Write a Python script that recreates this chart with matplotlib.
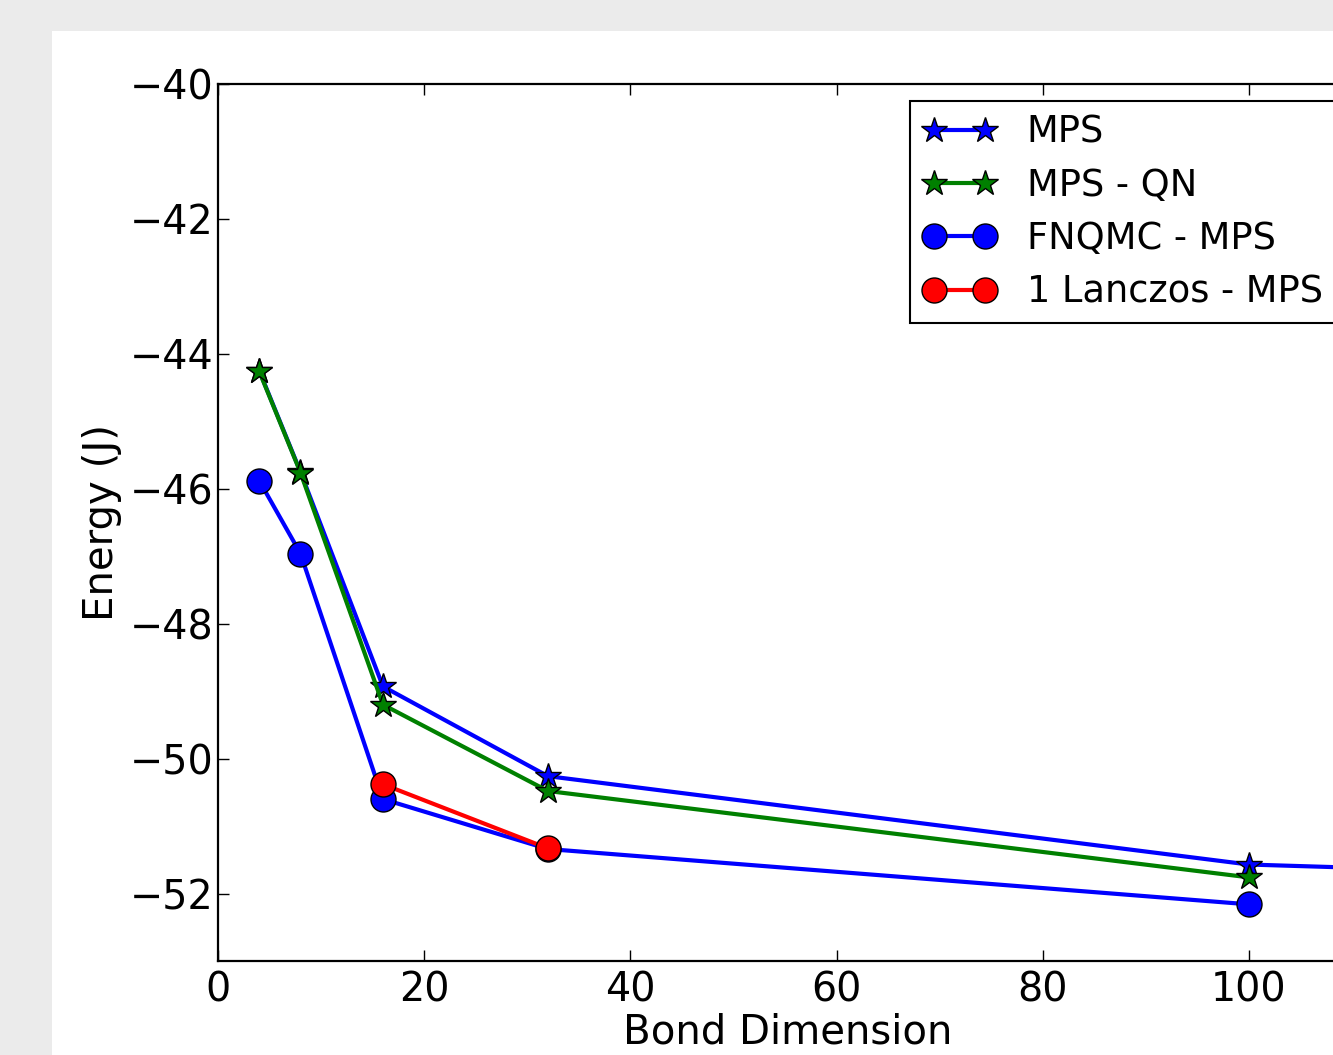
import matplotlib

matplotlib.use("Agg")
import matplotlib.pyplot as plt
from matplotlib.patches import Rectangle

# bond dimensions and energies
bond_mps = [4, 8, 16, 32, 100, 128]
energy_mps = [-44.25, -45.75, -48.93, -50.26, -51.57, -51.70]

bond_qn = [4, 8, 16, 32, 100]
energy_qn = [-44.26, -45.76, -49.20, -50.48, -51.76]

bond_fnqmc = [4, 8, 16, 32, 100]
energy_fnqmc = [-45.88, -46.96, -50.60, -51.34, -52.16]

bond_lanczos = [16, 32]
energy_lanczos = [-50.38, -51.33]

W, H = 1333, 1055
fig = plt.figure(figsize=(W / 100, H / 100), dpi=100, facecolor="#ebebeb")
fig.patches.append(
    Rectangle((52 / W, 0), 1, 1 - 31 / H, transform=fig.transFigure,
              facecolor="white", edgecolor="none", zorder=-10)
)

ax_l, ax_r, ax_t, ax_b = 218, 1455, 84, 961
ax = fig.add_axes([ax_l / W, (H - ax_b) / H, (ax_r - ax_l) / W, (ax_b - ax_t) / H])
ax.set_facecolor("white")

star = dict(marker="*", markersize=19, markeredgecolor="black", markeredgewidth=1, lw=3)
dot = dict(marker="o", markersize=18, markeredgecolor="black", markeredgewidth=1, lw=3)

ax.plot(bond_mps, energy_mps, color="blue", label="MPS", **star)
ax.plot(bond_qn, energy_qn, color="green", label="MPS - QN", **star)
ax.plot(bond_fnqmc, energy_fnqmc, color="blue", label="FNQMC - MPS", **dot)
ax.plot(bond_lanczos, energy_lanczos, color="red", label="1 Lanczos - MPS", **dot)

ax.set_xlim(0, 120)
ax.set_ylim(-53, -40)
ax.set_xticks([0, 20, 40, 60, 80, 100])
ax.set_yticks([-52, -50, -48, -46, -44, -42, -40])
ax.tick_params(direction="in", length=8, width=1, labelsize=28.5, pad=7,
               top=True, right=True)
ax.tick_params(axis="y", pad=3)
for s in ax.spines.values():
    s.set_linewidth(1.6)

ax.set_xlabel("Bond Dimension", fontsize=29)
ax.xaxis.set_label_coords((788 - ax_l) / (ax_r - ax_l), -0.059)
ax.set_ylabel("Energy (J)", fontsize=29, labelpad=6)

leg = ax.legend(loc="upper left", bbox_to_anchor=(910 / W, 1 - 101 / H),
                bbox_transform=fig.transFigure, numpoints=2, fontsize=26.5,
                fancybox=False, framealpha=1, borderpad=0.35,
                handlelength=2.0, handletextpad=0.82, labelspacing=0.44,
                borderaxespad=0)
leg.get_frame().set_edgecolor("black")
leg.get_frame().set_linewidth(1.5)

fig.savefig("out.png", dpi=100, facecolor=fig.get_facecolor())
